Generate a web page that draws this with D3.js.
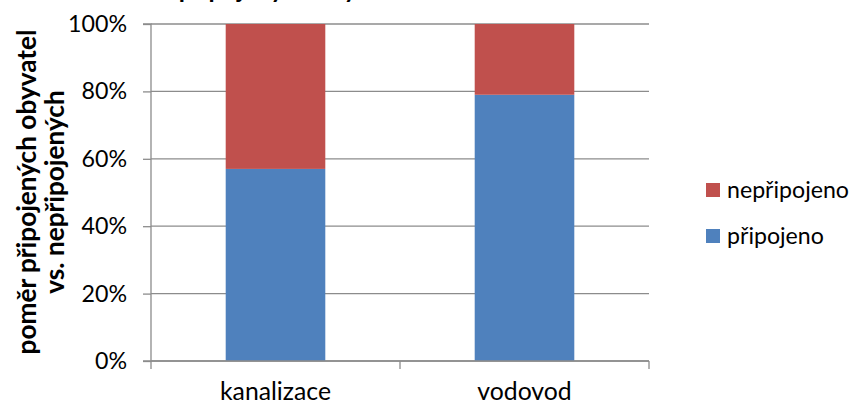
<!DOCTYPE html>
<html><head><meta charset="utf-8">
<script src="https://cdn.jsdelivr.net/npm/d3@7"></script>
<style>body{margin:0;background:#fff}svg{display:block;font-family:Lato,"Open Sans",sans-serif}</style>
</head><body><svg id="c" width="858" height="405"></svg>
<script>
const categories = ["kanalizace", "vodovod"];
const seriesNames = ["připojeno", "nepřipojeno"];
const pripojeno = [57, 79];
const nepripojeno = [43, 21];
const yTicks = [0, 20, 40, 60, 80, 100];
const colors = ["#4f81bd", "#c0504d"];
const title = "Podíl připojených obyvatel";
const yTitle = ["poměr připojených obyvatel", "vs. nepřipojených"];

const svg = d3.select("#c");
const x0 = 151, x1 = 649, yTop = 24, yBot = 361;
const x = d3.scaleBand().domain(categories).range([x0, x1]).paddingInner(0.6).paddingOuter(0.3);
const y = d3.scaleLinear().domain([0, 100]).range([yBot, yTop]);

// title (clipped at top in the reference)
svg.append("text").attr("x", 116).attr("y", -2).attr("font-weight", "bold").attr("font-size", 25).attr("fill", "#000").text(title);

// gridlines
svg.append("g").selectAll("line").data(yTicks).join("line")
  .attr("x1", x0).attr("x2", x1).attr("y1", d => y(d)).attr("y2", d => y(d))
  .attr("stroke", "#8c8c8c").attr("stroke-width", 1.3);

// stacked bars
const rows = categories.map((c, i) => ({cat: c, "připojeno": pripojeno[i], "nepřipojeno": nepripojeno[i]}));
const stack = d3.stack().keys(seriesNames)(rows);
svg.append("g").selectAll("g").data(stack).join("g").attr("fill", (d, i) => colors[i])
  .selectAll("rect").data(d => d).join("rect")
  .attr("x", d => x(d.data.cat)).attr("width", x.bandwidth())
  .attr("y", d => y(d[1])).attr("height", d => y(d[0]) - y(d[1]));

// y axis
const yAxis = d3.axisLeft(y).tickValues(yTicks).tickFormat(d => d + "%").tickSize(8).tickPadding(16);
const ga = svg.append("g").attr("transform", `translate(${x0},0)`).call(yAxis);
ga.select(".domain").attr("stroke", "#8c8c8c").attr("stroke-width", 1.3).attr("d", `M-8,${yTop}H0V${yBot}`);
ga.selectAll(".tick line").attr("stroke", "#8c8c8c").attr("stroke-width", 1.3);
const tt = ga.selectAll(".tick text").attr("font-size", 20).attr("fill", "#000").attr("font-family", "Lato");
const t100 = tt.filter(d => d === 100).node();
tt.attr("font-size", (20 * 59 / t100.getComputedTextLength()).toFixed(2));

// x axis
const gx = svg.append("g").attr("transform", `translate(0,${yBot})`);
gx.append("line").attr("x1", x0 - 8).attr("x2", x1).attr("stroke", "#8c8c8c").attr("stroke-width", 1.3);
const bounds = [x0, (x0 + x1) / 2, x1];
gx.selectAll("line.t").data(bounds).join("line").attr("class", "t")
  .attr("x1", d => d).attr("x2", d => d).attr("y1", 0).attr("y2", 8)
  .attr("stroke", "#8c8c8c").attr("stroke-width", 1.3);
const xl = gx.selectAll("text").data(categories).join("text")
  .attr("x", d => x(d) + x.bandwidth() / 2).attr("y", 39)
  .attr("text-anchor", "middle").attr("font-size", 20).attr("fill", "#000").text(d => d);
const kn = xl.filter(d => d === "kanalizace").node();
xl.attr("font-size", (20 * 111 / kn.getComputedTextLength()).toFixed(2));

// y title
const yt = svg.append("text").attr("transform", "translate(0,192) rotate(-90)")
  .attr("text-anchor", "middle").attr("font-weight", "bold").attr("font-size", 20).attr("fill", "#000");
yt.selectAll("tspan").data(yTitle).join("tspan").attr("x", 0).attr("y", (d, i) => 36 + i * 28).text(d => d);
const l1 = yt.select("tspan").node().getComputedTextLength();
yt.attr("font-size", (20 * 325 / l1).toFixed(2));

// legend (reverse order)
const legend = [1, 0];
const lg = svg.append("g").selectAll("g").data(legend).join("g")
  .attr("transform", (d, i) => `translate(706,${183 + i * 46})`);
lg.append("rect").attr("width", 14).attr("height", 14).attr("fill", d => colors[d]);
const lt = lg.append("text").attr("x", 21).attr("y", 15).attr("font-size", 20).attr("fill", "#000").text(d => seriesNames[d]);
const ln = lt.filter(d => d === 1).node();
lt.attr("font-size", (20 * 122 / ln.getComputedTextLength()).toFixed(2));
</script></body></html>
